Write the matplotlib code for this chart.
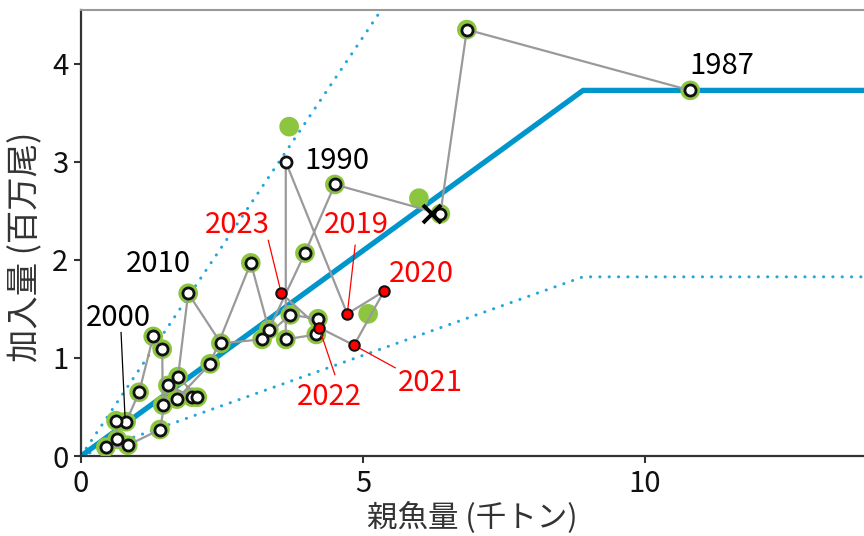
import matplotlib
matplotlib.use('Agg')
import matplotlib.pyplot as plt

plt.rcParams['font.family'] = ['Noto Sans CJK JP', 'DejaVu Sans']

# 親魚量 (千トン) と 加入量 (百万尾) : 線で結ぶ順
ssb = [10.80, 6.84, 6.37, 4.50, 3.97, 3.33, 3.01, 2.29, 1.70, 1.45,
       1.44, 1.28, 1.03, 0.80, 0.62, 0.64, 0.44, 0.83, 1.40, 1.54,
       1.97, 2.06, 1.72, 1.90, 2.48, 3.21, 3.71, 4.20, 4.17, 3.63,
       3.63, 4.72, 5.37, 4.84, 4.22, 3.55]
rec = [3.73, 4.35, 2.47, 2.77, 2.07, 1.29, 1.97, 0.94, 0.58, 0.52,
       1.09, 1.22, 0.65, 0.35, 0.36, 0.17, 0.09, 0.11, 0.27, 0.72,
       0.60, 0.60, 0.81, 1.66, 1.15, 1.19, 1.44, 1.40, 1.24, 1.19,
       3.00, 1.45, 1.68, 1.13, 1.31, 1.66]
n_green = 30      # 緑の縁取りがある点の数 (先頭から)
n_red = 5         # 最近年 (2019-2023)

# 緑のみの点
green_only_ssb = [3.69, 5.99, 5.09]
green_only_rec = [3.36, 2.63, 1.45]

# 再生産関係 (ホッケースティック)
hs_break = 8.90
hs_plateau = 3.73
upper_factor = 2.04
lower_factor = 0.49
x_end = 14.5

# ×印
ref_ssb, ref_rec = 6.22, 2.47

labels_black = [('1987', 11.36, 3.98), ('1990', 4.54, 3.01), ('2010', 1.37, 1.96), ('2000', 0.66, 1.41)]
labels_red = [('2023', 2.77, 2.36), ('2019', 4.89, 2.36), ('2020', 6.03, 1.86),
              ('2021', 6.19, 0.74), ('2022', 4.41, 0.60)]
leaders_red = [((3.32, 2.20), (3.55, 1.66)), ((4.86, 2.15), (4.72, 1.45)),
               ((5.57, 0.90), (4.84, 1.13)), ((4.50, 0.83), (4.22, 1.31))]
leader_2000 = ((0.71, 1.26), (0.78, 0.40))

fig = plt.figure(figsize=(8.64, 5.36), dpi=100)
ax = fig.add_axes([81 / 864, 80 / 536, 1 - 81 / 864, 446 / 536])

hs_x = [0, hs_break, x_end]
hs_y = [0, hs_plateau, hs_plateau]
blue = '#0096cb'
dot_style = dict(color='#22a7dd', lw=2.2, linestyle=(0, (0.05, 3.0)),
                 dash_capstyle='round', zorder=1)
ax.plot(hs_x, [v * upper_factor for v in hs_y], **dot_style)
ax.plot(hs_x, [v * lower_factor for v in hs_y], **dot_style)
ax.plot(hs_x, hs_y, color=blue, lw=3.8, solid_capstyle='butt', zorder=2)

green = '#8cc63f'
ax.scatter(ssb[:n_green] + green_only_ssb, rec[:n_green] + green_only_rec,
           s=200, color=green, edgecolors='none', zorder=3)
ax.plot(ssb, rec, color='#9a9a9a', lw=1.6, zorder=4)
ax.plot(ssb[:-n_red], rec[:-n_red], 'o', ms=8, mfc='white', mec='#111111', mew=2,
        linestyle='none', zorder=5)
ax.plot(ssb[-n_red:], rec[-n_red:], 'o', ms=7.5, mfc='#ff0000', mec='#111111', mew=1.5,
        linestyle='none', zorder=6)
ax.plot(ref_ssb, ref_rec, 'x', ms=13, mec='black', mew=2.8, zorder=7)

for t, x, y in labels_black:
    ax.text(x, y, t, fontsize=21, color='black', ha='center', va='center', zorder=8)
for t, x, y in labels_red:
    ax.text(x, y, t, fontsize=21, color='#ff0000', ha='center', va='center', zorder=8)
for (x0, y0), (x1, y1) in leaders_red:
    ax.plot([x0, x1], [y0, y1], color='#ff0000', lw=0.9, zorder=5)
ax.plot([leader_2000[0][0], leader_2000[1][0]], [leader_2000[0][1], leader_2000[1][1]],
        color='black', lw=0.9, zorder=5)

ax.set_xlim(0, 13.88)
ax.set_ylim(0, 4.55)
ax.set_xticks([0, 5, 10])
ax.set_yticks([0, 1, 2, 3, 4])
ax.tick_params(labelsize=21, length=5, width=1.5, color='#333333', labelcolor='#111111', pad=4)
for side in ['left', 'bottom']:
    ax.spines[side].set_linewidth(1.6)
    ax.spines[side].set_color('#333333')
ax.spines['top'].set_color('#999999')
ax.spines['top'].set_linewidth(1.5)
ax.spines['right'].set_visible(False)

ax.set_xlabel('親魚量 (千トン)', fontsize=22, color='#333333')
ax.set_ylabel('加入量 (百万尾)', fontsize=24, color='#333333')
ax.xaxis.set_label_coords(0.5, -0.1)
ax.yaxis.set_label_coords(-0.048, 0.47)

fig.savefig('out.png', dpi=100)
